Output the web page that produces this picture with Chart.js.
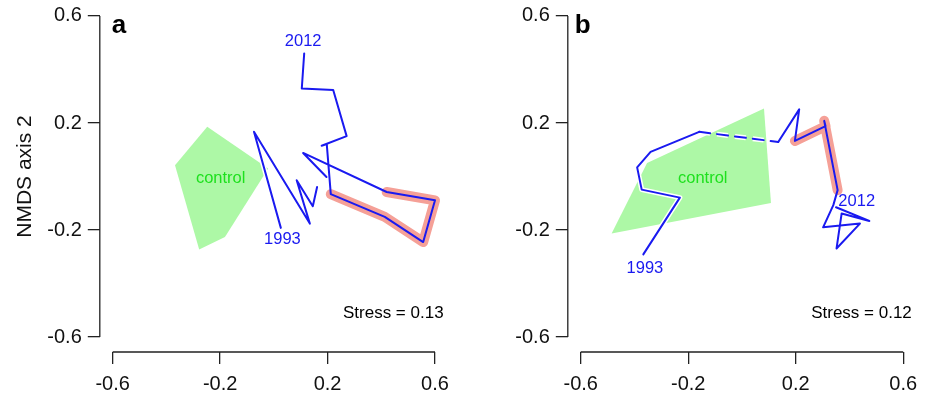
<!DOCTYPE html>
<html>
<head>
<meta charset="utf-8">
<script src="https://cdn.jsdelivr.net/npm/chart.js@4.4.1/dist/chart.umd.min.js"></script>
<style>
  html, body { margin: 0; padding: 0; background: #fff; }
  #wrap { position: relative; width: 925px; height: 396px; overflow: hidden; }
  canvas { position: absolute; top: 0; }
</style>
</head>
<body>
<div id="wrap">
  <canvas id="panelA" width="462" height="396" style="left:0"></canvas>
  <canvas id="panelB" width="463" height="396" style="left:462px"></canvas>
</div>
<script>
// Axis tick values shared by both ordinations
const axisTicks = [-0.6, -0.2, 0.2, 0.6];
const yearLabels = ['1993', '2012'];

// Panel a: NMDS site scores, one point per year
const trajAX = [0.026, -0.074, 0.134, 0.085, 0.145, 0.161, 0.196, 0.109, 0.420, 0.600, 0.556, 0.413, 0.212, 0.197, 0.178, 0.271, 0.221, 0.104, 0.113];
const trajAY = [-0.192, 0.167, -0.176, -0.014, -0.111, -0.039, -0.002, 0.088, -0.058, -0.089, -0.245, -0.151, -0.066, 0.121, 0.115, 0.151, 0.323, 0.329, 0.460];
const controlAX = [-0.248, -0.021, -0.182, -0.278, -0.368];
const controlAY = [0.186, 0.030, -0.226, -0.273, 0.042];
const stressA = 0.13;

// Panel b
const trajBX = [-0.367, -0.231, -0.373, -0.390, -0.340, -0.159, 0.135, 0.213, 0.197, 0.311, 0.306, 0.356, 0.340, 0.302, 0.439, 0.352, 0.371, 0.474, 0.350];
const trajBY = [-0.291, -0.079, -0.049, 0.034, 0.092, 0.167, 0.129, 0.251, 0.133, 0.188, 0.208, -0.051, -0.107, -0.190, -0.176, -0.269, -0.138, -0.166, -0.115];
const controlBX = [-0.485, -0.353, 0.082, 0.108];
const controlBY = [-0.213, 0.050, 0.254, -0.099];
const stressB = 0.12;

const FONT = '"Liberation Sans", Arial, Helvetica, sans-serif';
const BLUE = '#1a1af0';

const panels = [
  {
    id: 'panelA', letter: 'a', letterDx: 12,
    trajX: trajAX, trajY: trajAY, polyX: controlAX, polyY: controlAY,
    highlight: [8, 12], gapAfter: 5, dashedAfter: -1,
    stress: stressA,
    yWidth: 99.8, padRight: 14.1, showTitle: true,
    controlAt: [-0.198, -0.008],
    yearAt: [[0.032, -0.236], [0.109, 0.504]]
  },
  {
    id: 'panelB', letter: 'b', letterDx: 7,
    trajX: trajBX, trajY: trajBY, polyX: controlBX, polyY: controlBY,
    highlight: [8, 11], gapAfter: -1, dashedAfter: 5,
    stress: stressB,
    yWidth: 105.8, padRight: 8.9, showTitle: false,
    controlAt: [-0.146, -0.008],
    yearAt: [[-0.361, -0.344], [0.427, -0.095]]
  }
];

function pts(xs, ys) { return xs.map((x, i) => ({ x: x, y: ys[i] })); }

// R-style detached axis lines plus text annotations
const annotate = {
  id: 'annotate',
  afterDatasetsDraw(chart, args, o) {
    const { ctx, chartArea } = chart;
    const xs = chart.scales.x, ys = chart.scales.y;
    ctx.save();
    ctx.strokeStyle = '#222';
    ctx.lineWidth = 1.3;
    ctx.beginPath();
    ctx.moveTo(chartArea.left, ys.getPixelForValue(axisTicks[0]));
    ctx.lineTo(chartArea.left, ys.getPixelForValue(axisTicks[axisTicks.length - 1]));
    ctx.moveTo(xs.getPixelForValue(axisTicks[0]), chartArea.bottom);
    ctx.lineTo(xs.getPixelForValue(axisTicks[axisTicks.length - 1]), chartArea.bottom);
    ctx.stroke();

    // panel letter
    ctx.fillStyle = '#000';
    ctx.font = 'bold 26px ' + FONT;
    ctx.textAlign = 'left';
    ctx.textBaseline = 'alphabetic';
    ctx.fillText(o.letter, chartArea.left + o.letterDx, ys.getPixelForValue(0.6) + 17);

    // control group label
    ctx.textAlign = 'center';
    ctx.textBaseline = 'middle';
    ctx.font = '16.5px ' + FONT;
    ctx.fillStyle = '#1ee01e';
    ctx.fillText('control', xs.getPixelForValue(o.controlAt[0]), ys.getPixelForValue(o.controlAt[1]));

    // first / last year
    ctx.fillStyle = BLUE;
    yearLabels.forEach((t, i) => {
      ctx.fillText(t, xs.getPixelForValue(o.yearAt[i][0]), ys.getPixelForValue(o.yearAt[i][1]));
    });

    // stress
    ctx.fillStyle = '#000';
    ctx.font = '17px ' + FONT;
    ctx.textAlign = 'right';
    ctx.fillText('Stress = ' + o.stress.toFixed(2), xs.getPixelForValue(0.632), ys.getPixelForValue(-0.51));
    ctx.restore();
  }
};

function noOverhang(s) {
  s.paddingTop = 0; s.paddingBottom = 0; s.paddingLeft = 0; s.paddingRight = 0;
}

panels.forEach(p => {
  const traj = pts(p.trajX, p.trajY);
  const hl = traj.slice(p.highlight[0], p.highlight[1] + 1);
  const segStyle = (color) => ({
    borderDash: c => c.p0DataIndex === p.dashedAfter ? [11, 7] : undefined,
    borderColor: c => c.p0DataIndex === p.gapAfter ? 'rgba(0,0,0,0)' : color
  });

  new Chart(document.getElementById(p.id), {
    type: 'line',
    data: {
      datasets: [
        { // trajectory
          data: traj, order: 1, borderColor: BLUE, borderWidth: 2,
          pointRadius: 0, fill: false, tension: 0,
          borderJoinStyle: 'round', borderCapStyle: 'round',
          segment: segStyle(BLUE)
        },
        { // highlighted stretch
          data: hl, order: 2, borderColor: '#f5a097', borderWidth: 10,
          pointRadius: 0, fill: false, tension: 0,
          borderJoinStyle: 'round', borderCapStyle: 'round'
        },
        { // white casing under the trajectory
          data: traj, order: 3, borderColor: '#fff', borderWidth: 5,
          pointRadius: 0, fill: false, tension: 0,
          borderJoinStyle: 'round', borderCapStyle: 'butt',
          segment: segStyle('#fff')
        },
        { // control hull
          data: pts(p.polyX, p.polyY), order: 4, borderWidth: 0,
          borderColor: 'rgba(0,0,0,0)', backgroundColor: '#adf8a6',
          pointRadius: 0, fill: 'shape', tension: 0
        }
      ]
    },
    options: {
      responsive: false,
      animation: false,
      events: [],
      layout: { padding: { left: 0, top: 1, right: p.padRight, bottom: 0 } },
      plugins: { legend: { display: false }, tooltip: { enabled: false }, annotate: p },
      scales: {
        x: {
          type: 'linear', min: -0.648, max: 0.648,
          afterBuildTicks: s => { s.ticks = axisTicks.map(v => ({ value: v })); },
          afterFit: s => { s.height = 44; noOverhang(s); },
          border: { display: false },
          grid: { display: true, drawOnChartArea: false, drawTicks: true, tickLength: 12, color: '#222', lineWidth: 1.3 },
          ticks: { autoSkip: false, maxRotation: 0, padding: 8, color: '#111', font: { family: FONT, size: 20 },
                   callback: v => String(v) }
        },
        y: {
          type: 'linear', min: -0.656, max: 0.656,
          afterBuildTicks: s => { s.ticks = axisTicks.map(v => ({ value: v })); },
          afterFit: s => { s.width = p.yWidth; noOverhang(s); },
          border: { display: false },
          grid: { display: true, drawOnChartArea: false, drawTicks: true, tickLength: 12, color: '#222', lineWidth: 1.3 },
          ticks: { autoSkip: false, padding: 6, color: '#111', font: { family: FONT, size: 20 },
                   callback: v => String(v) },
          title: { display: p.showTitle, text: 'NMDS axis 2', color: '#111',
                   font: { family: FONT, size: 21 }, padding: { top: 13, bottom: 0 } }
        }
      }
    },
    plugins: [annotate]
  });
});
</script>
</body>
</html>
